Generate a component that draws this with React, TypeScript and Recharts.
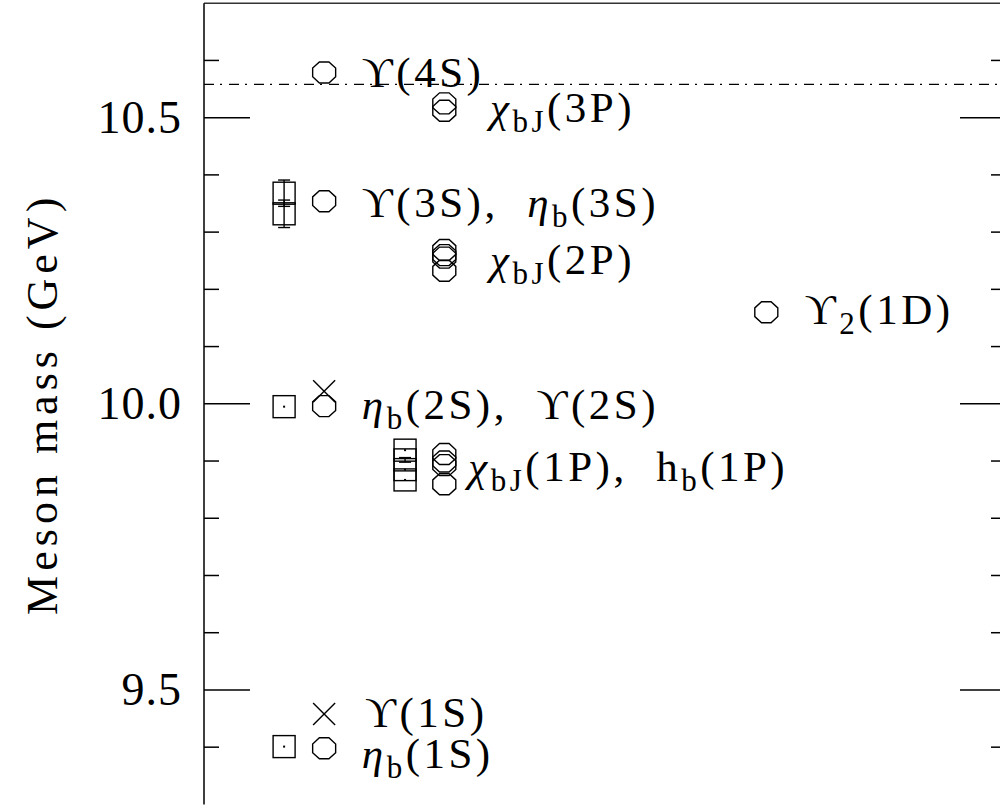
import React from 'react';
import { ScatterChart, Scatter, XAxis, YAxis, ReferenceLine, ErrorBar } from 'recharts';

const FONT = '"Liberation Serif", "DejaVu Serif", serif';

// ---- axis ----
const yDomain = [9.3, 10.7];
const yTicks = [9.4, 9.5, 9.6, 9.7, 9.8, 9.9, 10.0, 10.1, 10.2, 10.3, 10.4, 10.5, 10.6];
const majorTicks = [9.5, 10.0, 10.5];
const bbThreshold = 10.558;
const frameTop = 10.7;

// ---- octagon (circle) markers: experimental masses ----
const upsilon4S = [{ x: 15, y: 10.579 }];
const chi3P = [{ x: 30, y: 10.525 }, { x: 30, y: 10.512 }];
const upsilon3S = [{ x: 15, y: 10.354 }];
const chi2P = [{ x: 30, y: 10.2325 }, { x: 30, y: 10.2555 }, { x: 30, y: 10.2598 }, { x: 30, y: 10.2687 }];
const upsilon1D = [{ x: 70.2, y: 10.16 }];
const eta2S = [{ x: 15, y: 9.996 }];
const chi1P = [{ x: 30, y: 9.9122 }, { x: 30, y: 9.8993 }, { x: 30, y: 9.8928 }, { x: 30, y: 9.8594 }];
const eta1S = [{ x: 15, y: 9.398 }];

// ---- cross markers ----
const crosses = [{ x: 15, y: 10.022 }, { x: 15, y: 9.458 }];

// ---- square markers (lattice) ----
const squaresPlain = [
  { x: 10, y: 9.995 },
  { x: 10, y: 9.401 },
  { x: 25.1, y: 9.919 },
  { x: 25.1, y: 9.885 },
  { x: 25.1, y: 9.867 },
];
const squaresErr = [
  { x: 10, y: 10.368, err: 0.023 },
  { x: 10, y: 10.332, err: 0.024 },
  { x: 25.1, y: 9.902, err: 0.004 },
];

// ---- labels ----
const labels = [
  { x: 19.7, y: 10.58, text: 'ϒ(4S)' },
  { x: 35.7, y: 10.518, text: 'χ_{bJ}(3P)' },
  { x: 19.7, y: 10.353, text: 'ϒ(3S),  η_{b}(3S)' },
  { x: 35.7, y: 10.253, text: 'χ_{bJ}(2P)' },
  { x: 75.0, y: 10.166, text: 'ϒ_{2}(1D)' },
  { x: 19.7, y: 10.0, text: 'η_{b}(2S),  ϒ(2S)' },
  { x: 33.0, y: 9.892, text: 'χ_{bJ}(1P),  h_{b}(1P)' },
  { x: 20.1, y: 9.461, text: 'ϒ(1S)' },
  { x: 19.7, y: 9.389, text: 'η_{b}(1S)' },
];

const octagonAll = [
  ...upsilon4S, ...chi3P, ...upsilon3S, ...chi2P, ...upsilon1D, ...eta2S, ...chi1P, ...eta1S,
];

const Octagon = (p: any) => {
  const { cx, cy } = p;
  if (cx == null || cy == null) return null;
  const rx = 11.5, ry = 10.5;
  const pts: string[] = [];
  for (let k = 0; k < 8; k++) {
    const a = (Math.PI / 8) + (k * Math.PI) / 4;
    pts.push(`${cx + rx * Math.cos(a) / Math.cos(Math.PI / 8)},${cy + ry * Math.sin(a) / Math.cos(Math.PI / 8)}`);
  }
  return <polygon points={pts.join(' ')} fill="none" stroke="#000" strokeWidth={1.4} />;
};

const Cross = (p: any) => {
  const { cx, cy } = p;
  if (cx == null || cy == null) return null;
  const r = 11;
  return (
    <g stroke="#000" strokeWidth={1.4}>
      <line x1={cx - r} y1={cy - r} x2={cx + r} y2={cy + r} />
      <line x1={cx - r} y1={cy + r} x2={cx + r} y2={cy - r} />
    </g>
  );
};

const SquareDot = (p: any) => {
  const { cx, cy } = p;
  if (cx == null || cy == null) return null;
  const r = 11;
  return (
    <g>
      <rect x={cx - r} y={cy - r} width={2 * r} height={2 * r} fill="none" stroke="#000" strokeWidth={1.4} />
      <rect x={cx - 1} y={cy - 1} width={2} height={2} fill="#000" />
    </g>
  );
};

const Square = (p: any) => {
  const { cx, cy } = p;
  if (cx == null || cy == null) return null;
  const r = 11;
  return <rect x={cx - r} y={cy - r} width={2 * r} height={2 * r} fill="none" stroke="#000" strokeWidth={1.4} />;
};

type Seg = { t: string; sub: boolean; it: boolean };
function parse(s: string): Seg[] {
  const segs: Seg[] = [];
  let i = 0;
  while (i < s.length) {
    if (s.startsWith('_{', i)) {
      const j = s.indexOf('}', i);
      segs.push({ t: s.slice(i + 2, j), sub: true, it: false });
      i = j + 1;
      continue;
    }
    let c = s[i];
    const it = c === 'η' || c === 'χ';
    if (c === ' ') c = '\u00A0';
    const last = segs[segs.length - 1];
    if (last && !last.sub && last.it === it) last.t += c;
    else segs.push({ t: c, sub: false, it });
    i++;
  }
  return segs;
}

const LABEL_SIZE = 43;
const SUB_SIZE = 31;
const SUB_DY = 10;

const LabelShape = (p: any) => {
  const { cx, cy, payload } = p;
  if (cx == null || cy == null) return null;
  const segs = parse(payload.text);
  let shifted = false;
  return (
    <text x={cx} y={cy + 15} fontFamily={FONT} fontSize={LABEL_SIZE} fill="#000" letterSpacing={3.5}>
      {segs.map((sg, k) => {
        let dy: number | undefined;
        if (sg.sub && !shifted) { dy = SUB_DY; shifted = true; }
        else if (!sg.sub && shifted) { dy = -SUB_DY; shifted = false; }
        return (
          <tspan key={k} dy={dy} fontSize={sg.sub ? SUB_SIZE : undefined} fontStyle={sg.it ? 'italic' : undefined}>
            {sg.t}
          </tspan>
        );
      })}
    </text>
  );
};

const isMajor = (v: number) => majorTicks.some((m) => Math.abs(m - v) < 1e-6);

const LeftTick = (p: any) => {
  const { x, y, payload } = p;
  const v = payload.value;
  const major = isMajor(v);
  return (
    <g>
      <line x1={x} x2={x + (major ? 46 : 15)} y1={y} y2={y} stroke="#000" strokeWidth={1.5} />
      {major && (
        <text x={x - 22} y={y + 15} textAnchor="end" fontFamily={FONT} fontSize={46} fill="#000" letterSpacing={1}>
          {v.toFixed(1)}
        </text>
      )}
    </g>
  );
};

const RightTick = (p: any) => {
  const { x, y, payload } = p;
  const major = isMajor(payload.value);
  return <line x1={x} x2={x - (major ? 45 : 14)} y1={y} y2={y} stroke="#000" strokeWidth={1.5} />;
};

const AxisTitle = (p: any) => {
  const vb = p.viewBox || { x: 0, y: 0, width: 204, height: 800 };
  const cy = vb.y + vb.height / 2;
  return (
    <text
      transform={`translate(57, ${cy}) rotate(-90)`}
      textAnchor="middle"
      fontFamily={FONT}
      fontSize={44}
      letterSpacing={5}
      fill="#000"
    >
      Meson mass (GeV)
    </text>
  );
};

export default function App() {
  return (
    <div style={{ position: 'fixed', left: 0, top: 0, width: 1000, height: 805, overflow: 'hidden', background: '#fff' }}>
      <ScatterChart width={1010} height={810} margin={{ top: 3.2, right: 0, bottom: 5.6, left: 0 }}>
        <XAxis type="number" dataKey="x" domain={[0, 100]} hide />
        <YAxis
          yAxisId="left"
          type="number"
          dataKey="y"
          domain={yDomain}
          ticks={yTicks}
          interval={0}
          width={204}
          tickSize={0}
          tickMargin={0}
          tickLine={false}
          axisLine={{ stroke: '#000', strokeWidth: 1.5 }}
          tick={<LeftTick />}
          allowDataOverflow
          label={{ content: <AxisTitle /> }}
        />
        <YAxis
          yAxisId="right"
          orientation="right"
          type="number"
          domain={yDomain}
          ticks={yTicks}
          interval={0}
          width={5}
          tickSize={0}
          tickMargin={0}
          tickLine={false}
          axisLine={{ stroke: '#000', strokeWidth: 1.5 }}
          tick={<RightTick />}
          allowDataOverflow
        />
        <ReferenceLine yAxisId="left" y={frameTop} stroke="#333" strokeWidth={1.5} ifOverflow="visible" />
        <ReferenceLine yAxisId="left" y={bbThreshold} stroke="#000" strokeWidth={1.3} strokeDasharray="10 6 2 7" />
        <Scatter yAxisId="left" data={octagonAll} shape={<Octagon />} isAnimationActive={false} />
        <Scatter yAxisId="left" data={crosses} shape={<Cross />} isAnimationActive={false} />
        <Scatter yAxisId="left" data={squaresPlain} shape={<SquareDot />} isAnimationActive={false} />
        <Scatter yAxisId="left" data={squaresErr} shape={<Square />} isAnimationActive={false}>
          <ErrorBar dataKey="err" direction="y" width={6} stroke="#000" strokeWidth={1.4} isAnimationActive={false} />
        </Scatter>
        <Scatter yAxisId="left" data={labels} shape={<LabelShape />} isAnimationActive={false} />
      </ScatterChart>
    </div>
  );
}
